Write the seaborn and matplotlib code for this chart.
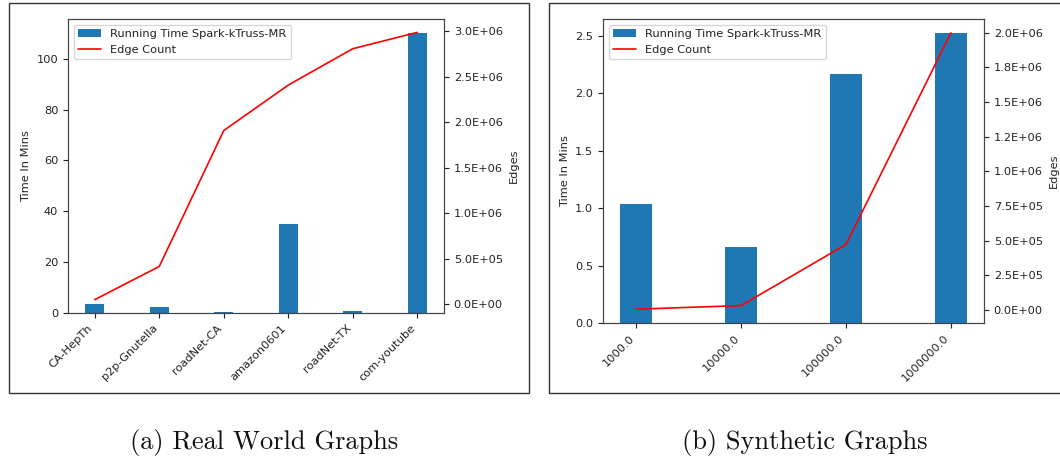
import matplotlib
matplotlib.use("Agg")
import matplotlib.pyplot as plt
import pandas as pd
import seaborn as sns
from matplotlib.patches import Rectangle
from matplotlib.ticker import FormatStrFormatter, MultipleLocator

# real world graphs
real_graphs = ["CA-HepTh", "p2p-Gnutella", "roadNet-CA", "amazon0601", "roadNet-TX", "com-youtube"]
real_minutes = [3.7, 2.5, 0.45, 35.0, 0.8, 110.1]
real_edges = [0.05e6, 0.415e6, 1.91e6, 2.41e6, 2.81e6, 2.99e6]

# synthetic graphs
synth_sizes = ["1000.0", "10000.0", "100000.0", "1000000.0"]
synth_minutes = [1.035, 0.666, 2.169, 2.523]
synth_edges = [0.005e6, 0.031e6, 0.472e6, 2.0e6]

BAR_COLOR = "#1f77b4"
BAR_WIDTH = 0.3
W, H = 1060, 459
FS = 8.2

sns.set_theme(style="ticks", rc={
    "font.size": FS,
    "axes.labelsize": FS,
    "xtick.labelsize": FS,
    "ytick.labelsize": FS,
    "legend.fontsize": FS,
    "xtick.major.size": 3.5,
    "ytick.major.size": 3.5,
    "xtick.major.width": 0.8,
    "ytick.major.width": 0.8,
    "axes.linewidth": 0.8,
    "axes.edgecolor": "#444444",
    "text.color": "#222222",
    "axes.labelcolor": "#222222",
    "xtick.color": "#222222",
    "ytick.color": "#222222",
})
plt.rcParams["font.family"] = ["DejaVu Sans"]


def fig_box(x0, y0, x1, y1):
    # pixel box (top-left origin) -> figure fraction rect
    return [x0 / W, 1 - y1 / H, (x1 - x0) / W, (y1 - y0) / H]


def draw_panel(ax, names, minutes, edges, left_step, right_step):
    frame = pd.DataFrame({"graph": names, "minutes": minutes, "edges": edges})
    sns.barplot(data=frame, x="graph", y="minutes", color=BAR_COLOR, width=BAR_WIDTH,
                saturation=1, linewidth=0, ax=ax, label="Running Time Spark-kTruss-MR")
    ax2 = ax.twinx()
    sns.lineplot(data=frame, x="graph", y="edges", color="red", linewidth=1.2,
                 sort=False, ax=ax2, label="Edge Count")

    n = len(names)
    margin = 0.05 * (n - 1 + BAR_WIDTH)
    ax.set_xlim(-BAR_WIDTH / 2 - margin, n - 1 + BAR_WIDTH / 2 + margin)

    ax.set_xlabel("")
    ax.set_ylabel("Time In Mins")
    ax2.set_ylabel("Edges")
    ax.yaxis.set_major_locator(MultipleLocator(left_step))
    ax2.yaxis.set_major_locator(MultipleLocator(right_step))
    ax2.yaxis.set_major_formatter(FormatStrFormatter("%.1E"))
    plt.setp(ax.get_xticklabels(), rotation=45, ha="right")

    for a in (ax, ax2):
        if a.get_legend() is not None:
            a.get_legend().remove()
    h1, l1 = ax.get_legend_handles_labels()
    h2, l2 = ax2.get_legend_handles_labels()
    ax2.legend(h1 + h2, l1 + l2, loc="upper left", frameon=True,
               framealpha=0.8, edgecolor="#cccccc", fancybox=True)
    for a in (ax, ax2):
        for side in ("top", "right", "left", "bottom"):
            a.spines[side].set_visible(True)


fig = plt.figure(figsize=(W / 100, H / 100), dpi=100)

ax_a = fig.add_axes(fig_box(68, 19, 444, 313))
draw_panel(ax_a, real_graphs, real_minutes, real_edges, 20, 0.5e6)

ax_b = fig.add_axes(fig_box(603, 19, 984, 323))
draw_panel(ax_b, synth_sizes, synth_minutes, synth_edges, 0.5, 0.25e6)

# frames around each sub-figure
for x0, x1 in [(9, 529), (549, 1062)]:
    fig.add_artist(Rectangle((x0 / W, 1 - 393 / H), (x1 - x0) / W, 390 / H,
                             transform=fig.transFigure, fill=False,
                             linewidth=1.0, edgecolor="#333333"))

fig.text(264 / W, 1 - 442 / H, "(a) Real World Graphs", ha="center", va="center",
         family="cmr10", fontsize=19, color="#111111")
fig.text(805 / W, 1 - 442 / H, "(b) Synthetic Graphs", ha="center", va="center",
         family="cmr10", fontsize=19, color="#111111")

fig.savefig("out.png", dpi=100)
